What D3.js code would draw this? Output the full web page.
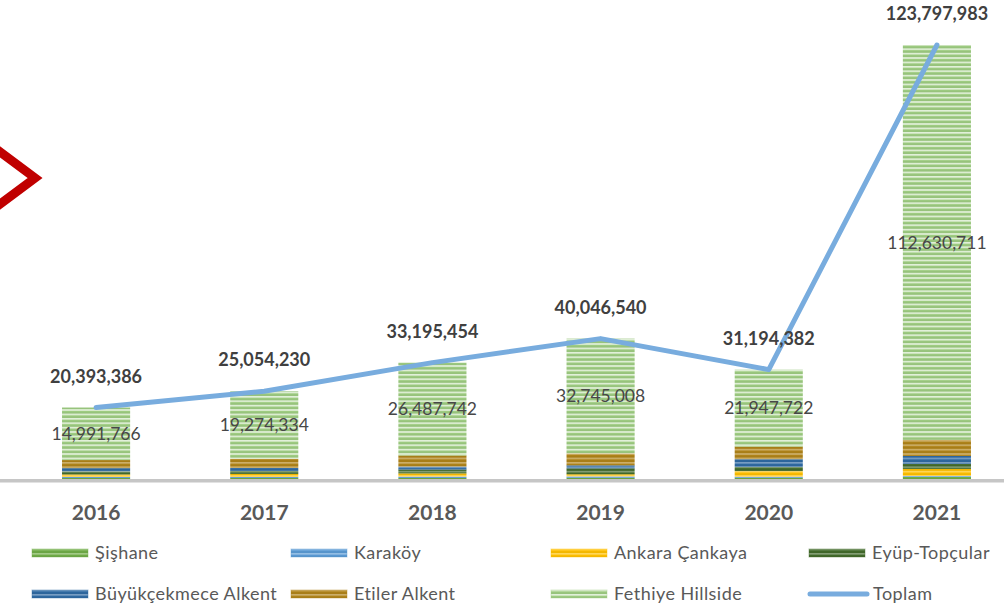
<!DOCTYPE html>
<html>
<head>
<meta charset="utf-8">
<script src="https://cdn.jsdelivr.net/npm/d3@7"></script>
<style>
  html, body { margin: 0; padding: 0; background: #fff; }
  svg { display: block; }
  text { font-family: Lato, "Open Sans", sans-serif; }
</style>
</head>
<body>
<div id="chart"></div>
<script>
const years = ["2016", "2017", "2018", "2019", "2020", "2021"];
const sishane      = [300000, 300000, 300000, 350000, 350000, 570000];
const karakoy      = [300000, 300000, 400000, 400000, 300000, 300000];
const ankara       = [700000, 850000, 900000, 600000, 1600000, 2000000];
const eyup         = [900000, 850000, 1100000, 1700000, 1200000, 1400000];
const buyukcekmece = [900000, 850000, 850000, 850000, 2200000, 2300000];
const etiler       = [2301620, 2629896, 3157712, 3401532, 3596660, 4597272];
const fethiye      = [14991766, 19274334, 26487742, 32745008, 21947722, 112630711];
const toplam       = [20393386, 25054230, 33195454, 40046540, 31194382, 123797983];

const seriesNames = ["Şişhane", "Karaköy", "Ankara Çankaya", "Eyüp-Topçular", "Büyükçekmece Alkent", "Etiler Alkent", "Fethiye Hillside"];
const seriesValues = [sishane, karakoy, ankara, eyup, buyukcekmece, etiler, fethiye];
const seriesColors = ["#70ad47", "#5b9bd5", "#ffc000", "#426b2b", "#2f6aa3", "#b08419", "#9fcd82"];
const lineName = "Toplam";
const lineColor = "#78acde";

const W = 1004, H = 606;
const svg = d3.select("#chart").append("svg").attr("width", W).attr("height", H);
const defs = svg.append("defs");

// striped patterns
seriesColors.forEach((c, i) => {
  const p = defs.append("pattern").attr("id", "pat" + i)
    .attr("patternUnits", "userSpaceOnUse").attr("width", 8).attr("height", 4.4);
  const base = d3.color(c);
  p.append("rect").attr("width", 8).attr("height", 4.4).attr("fill", c);
  p.append("rect").attr("y", 0).attr("width", 8).attr("height", 1.6)
    .attr("fill", d3.interpolateRgb(c, "#ffffff")(i === 6 ? 0.7 : 0.35));
  p.append("rect").attr("y", 3.0).attr("width", 8).attr("height", 1.0)
    .attr("fill", base.darker(0.25).formatHex());
});

const baseY = 479;
const x = d3.scaleBand().domain(years).range([12, 1021]).paddingInner(0.595).paddingOuter(0.2975);
const y = d3.scaleLinear().domain([0, 123797983]).range([baseY, 45]);

// stack data
const rows = years.map((yr, j) => {
  const o = { year: yr };
  seriesNames.forEach((n, i) => o[n] = seriesValues[i][j]);
  return o;
});
const stacked = d3.stack().keys(seriesNames)(rows);

const g = svg.append("g");
g.selectAll("g.series").data(stacked).join("g").attr("class", "series")
  .attr("fill", (d, i) => "url(#pat" + i + ")")
  .selectAll("rect").data(d => d).join("rect")
  .attr("x", d => x(d.data.year))
  .attr("width", x.bandwidth())
  .attr("y", d => y(d[1]))
  .attr("height", d => y(d[0]) - y(d[1]));

// axis line
const xAxis = d3.axisBottom(x).tickSize(0).tickPadding(24).tickFormat(d => d);
const ax = svg.append("g").attr("transform", `translate(0,${baseY + 1.75})`).call(xAxis);
ax.select(".domain").remove();
ax.append("line").attr("x1", 0).attr("x2", W).attr("stroke", "#c6c6c6").attr("stroke-width", 3.5);
ax.selectAll(".tick text").attr("fill", "#595959").attr("font-size", 21).attr("font-weight", "bold")
  .attr("font-family", "Lato, sans-serif");

// Fethiye labels (center of segment)
const fStack = stacked[6];
svg.append("g").selectAll("text").data(fStack).join("text")
  .attr("x", d => x(d.data.year) + x.bandwidth() / 2)
  .attr("y", d => (y(d[0]) + y(d[1])) / 2)
  .attr("dy", "0.35em")
  .attr("text-anchor", "middle")
  .attr("font-size", 17.5)
  .attr("fill", "#474747")
  .text(d => d3.format(",")(d[1] - d[0]));

// Toplam line
const line = d3.line().x((d, i) => x(years[i]) + x.bandwidth() / 2).y(d => y(d));
svg.append("path").datum(toplam).attr("d", line)
  .attr("fill", "none").attr("stroke", lineColor).attr("stroke-width", 5)
  .attr("stroke-linecap", "round").attr("stroke-linejoin", "round");

svg.append("g").selectAll("text").data(toplam).join("text")
  .attr("x", (d, i) => x(years[i]) + x.bandwidth() / 2)
  .attr("y", d => y(d) - 31)
  .attr("dy", "0.35em")
  .attr("text-anchor", "middle")
  .attr("font-size", 18)
  .attr("font-weight", "bold")
  .attr("fill", "#404040")
  .text(d => d3.format(",")(d));

// red chevron decoration
svg.append("path").attr("d", "M-4,149 L35,178 L-4,207")
  .attr("fill", "none").attr("stroke", "#c00000").attr("stroke-width", 9).attr("stroke-linejoin", "miter");

// legend
const legendItems = [
  { name: seriesNames[0], idx: 0, col: 0, row: 0 },
  { name: seriesNames[1], idx: 1, col: 1, row: 0 },
  { name: seriesNames[2], idx: 2, col: 2, row: 0 },
  { name: seriesNames[3], idx: 3, col: 3, row: 0 },
  { name: seriesNames[4], idx: 4, col: 0, row: 1 },
  { name: seriesNames[5], idx: 5, col: 1, row: 1 },
  { name: seriesNames[6], idx: 6, col: 2, row: 1 },
  { name: lineName, idx: -1, col: 3, row: 1 }
];
const colX = [32, 291, 551, 809];
const rowY = [553, 594];
const lg = svg.append("g").selectAll("g").data(legendItems).join("g")
  .attr("transform", d => `translate(${colX[d.col]},${rowY[d.row]})`);
lg.each(function (d) {
  const s = d3.select(this);
  if (d.idx >= 0) {
    s.append("rect").attr("x", 0).attr("y", -4).attr("width", 56).attr("height", 8)
      .attr("fill", `url(#pat${d.idx})`).attr("stroke", seriesColors[d.idx]).attr("stroke-opacity", 0.4);
  } else {
    s.append("line").attr("x1", 1).attr("x2", 58).attr("stroke", lineColor)
      .attr("stroke-width", 5).attr("stroke-linecap", "round");
  }
  s.append("text").attr("x", d.idx >= 0 ? 63 : 64).attr("dy", "0.35em")
    .attr("font-size", 18).attr("letter-spacing", 0.45).attr("fill", "#595959").text(d.name);
});
</script>
</body>
</html>
